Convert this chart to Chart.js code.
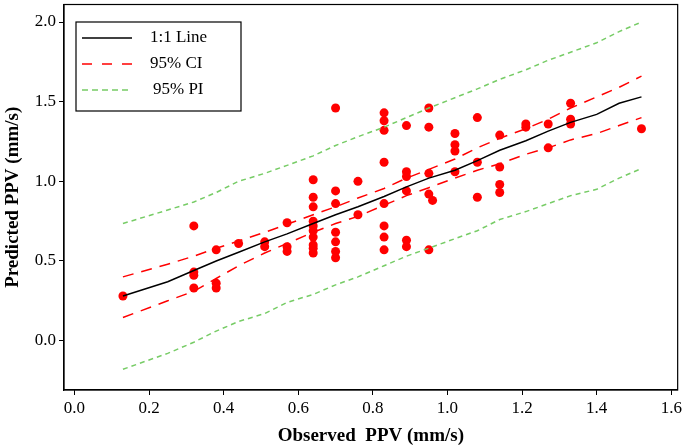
<!DOCTYPE html>
<html>
<head>
<meta charset="utf-8">
<script src="https://cdn.jsdelivr.net/npm/chart.js@4/dist/chart.umd.min.js"></script>
<style>
  html, body { margin: 0; padding: 0; background: #fff; }
  #wrap { width: 685px; height: 447px; }
</style>
</head>
<body>
<div id="wrap"><canvas id="chart"></canvas></div>
<script>
// fitted line and bands, read at these x positions
const fitX    = [0.13, 0.25, 0.32, 0.38, 0.44, 0.51, 0.57, 0.64, 0.70, 0.76, 0.83, 0.89, 0.95, 1.02, 1.08, 1.14, 1.21, 1.27, 1.33, 1.40, 1.46, 1.52];
const fitLine = [0.28, 0.37, 0.44, 0.50, 0.555, 0.62, 0.67, 0.735, 0.79, 0.84, 0.905, 0.965, 1.02, 1.07, 1.13, 1.195, 1.255, 1.315, 1.37, 1.42, 1.49, 1.53];
const ciUpper = [0.40, 0.48, 0.53, 0.58, 0.625, 0.68, 0.73, 0.79, 0.84, 0.895, 0.955, 1.02, 1.075, 1.14, 1.21, 1.27, 1.33, 1.39, 1.46, 1.53, 1.59, 1.66];
const ciLower = [0.145, 0.25, 0.31, 0.39, 0.47, 0.55, 0.61, 0.68, 0.735, 0.78, 0.85, 0.91, 0.96, 1.02, 1.07, 1.11, 1.17, 1.21, 1.26, 1.30, 1.35, 1.40];
const piUpper = [0.735, 0.82, 0.87, 0.93, 1.00, 1.05, 1.10, 1.16, 1.225, 1.28, 1.34, 1.40, 1.46, 1.525, 1.58, 1.64, 1.70, 1.76, 1.81, 1.87, 1.94, 2.00];
const piLower = [-0.18, -0.08, -0.01, 0.06, 0.12, 0.17, 0.24, 0.29, 0.35, 0.40, 0.47, 0.53, 0.58, 0.64, 0.69, 0.76, 0.81, 0.86, 0.91, 0.95, 1.02, 1.08];

// observed vs predicted PPV
const obsPPV  = [0.13,
  0.32, 0.32, 0.32, 0.32,
  0.38, 0.38, 0.38,
  0.44,
  0.51, 0.51,
  0.57, 0.57, 0.57,
  0.64, 0.64, 0.64, 0.64, 0.64, 0.64, 0.64, 0.64, 0.64, 0.64,
  0.70, 0.70, 0.70, 0.70, 0.70, 0.70, 0.70,
  0.76, 0.76,
  0.83, 0.83, 0.83, 0.83, 0.83, 0.83, 0.83, 0.83,
  0.89, 0.89, 0.89, 0.89, 0.89, 0.89,
  0.95, 0.95, 0.95, 0.95, 0.96, 0.95,
  1.02, 1.02, 1.02, 1.02,
  1.08, 1.08, 1.08,
  1.14, 1.14, 1.14, 1.14,
  1.21, 1.21,
  1.27, 1.27,
  1.33, 1.33, 1.33,
  1.52];
const predPPV = [0.28,
  0.72, 0.43, 0.41, 0.33,
  0.57, 0.36, 0.33,
  0.61,
  0.62, 0.59,
  0.74, 0.59, 0.56,
  1.01, 0.90, 0.84, 0.75, 0.72, 0.69, 0.65, 0.60, 0.58, 0.55,
  1.46, 0.94, 0.86, 0.68, 0.62, 0.56, 0.52,
  1.00, 0.79,
  1.43, 1.38, 1.32, 1.12, 0.86, 0.72, 0.65, 0.57,
  1.35, 1.06, 1.03, 0.94, 0.63, 0.59,
  1.46, 1.34, 1.05, 0.92, 0.88, 0.57,
  1.30, 1.23, 1.19, 1.06,
  1.40, 1.12, 0.90,
  1.29, 1.09, 0.98, 0.93,
  1.36, 1.34,
  1.36, 1.21,
  1.49, 1.39, 1.36,
  1.33];

const xTicks = [0, 0.2, 0.4, 0.6, 0.8, 1.0, 1.2, 1.4, 1.6];
const yTicks = [0, 0.5, 1.0, 1.5, 2.0];

const serif = 'Liberation Serif';
const toXY = (xs, ys) => xs.map((x, i) => ({ x: x, y: ys[i] }));

function lineSet(label, ys, color, dash, order) {
  return {
    type: 'line',
    label: label,
    data: toXY(fitX, ys),
    borderColor: color,
    borderWidth: 1.5,
    borderDash: dash,
    pointRadius: 0,
    fill: false,
    tension: 0,
    order: order
  };
}

// border round the plot area
const framePlugin = {
  id: 'frame',
  afterDraw(chart) {
    const a = chart.chartArea, ctx = chart.ctx;
    ctx.save();
    ctx.strokeStyle = '#000';
    ctx.lineWidth = 1.2;
    ctx.strokeRect(a.left, a.top, a.right - a.left, a.bottom - a.top);
    ctx.restore();
  }
};

// legend box inside the plot
const boxLegend = {
  id: 'boxLegend',
  afterDraw(chart) {
    const ctx = chart.ctx;
    const items = [
      { text: '1:1 Line', color: '#000', dash: [], y: 38, x2: 132, tx: 150 },
      { text: '95% CI', color: '#ff0000', dash: [10, 10], y: 64, x2: 132, tx: 150 },
      { text: '95% PI', color: '#77cc66', dash: [6, 4], y: 90, x2: 130, tx: 153 }
    ];
    ctx.save();
    ctx.fillStyle = '#fff';
    ctx.fillRect(76, 22, 165, 89);
    ctx.strokeStyle = '#000';
    ctx.lineWidth = 1.2;
    ctx.setLineDash([]);
    ctx.strokeRect(76, 22, 165, 89);
    ctx.font = '17px "' + serif + '"';
    ctx.textBaseline = 'middle';
    items.forEach(it => {
      ctx.beginPath();
      ctx.strokeStyle = it.color;
      ctx.lineWidth = 1.5;
      ctx.setLineDash(it.dash);
      ctx.moveTo(82, it.y);
      ctx.lineTo(it.x2, it.y);
      ctx.stroke();
      ctx.fillStyle = '#000';
      ctx.fillText(it.text, it.tx, it.y);
    });
    ctx.restore();
  }
};

new Chart(document.getElementById('chart'), {
  type: 'scatter',
  data: {
    datasets: [
      lineSet('1:1 Line', fitLine, '#000000', [], 1),
      lineSet('95% CI', ciUpper, '#ff0000', [11, 8], 2),
      lineSet('95% CI lower', ciLower, '#ff0000', [11, 8], 2),
      lineSet('95% PI', piUpper, '#77cc66', [5, 4], 3),
      lineSet('95% PI lower', piLower, '#77cc66', [5, 4], 3),
      {
        type: 'scatter',
        label: 'Data',
        data: toXY(obsPPV, predPPV),
        backgroundColor: '#ff0000',
        borderWidth: 0,
        pointRadius: 4.5,
        order: 4
      }
    ]
  },
  options: {
    responsive: true,
    maintainAspectRatio: false,
    animation: false,
    layout: { padding: { top: 2, right: 5, left: 0, bottom: 0 } },
    plugins: {
      legend: { display: false },
      tooltip: { enabled: false }
    },
    scales: {
      x: {
        type: 'linear',
        min: -0.028,
        max: 1.617,
        afterBuildTicks: s => { s.ticks = xTicks.map(v => ({ value: v })); },
        afterFit: s => { s.height = 57; },
        ticks: {
          font: { family: serif, size: 17 },
          color: '#000',
          padding: 3,
          maxRotation: 0,
          callback: v => v.toFixed(1)
        },
        grid: { drawOnChartArea: false, drawTicks: true, tickLength: 5, color: '#000', lineWidth: 1 },
        border: { display: true, color: '#000', width: 1.2 },
        title: {
          display: true,
          text: 'Observed  PPV (mm/s)',
          font: { family: serif, size: 19, weight: 'bold' },
          color: '#000',
          padding: { top: 2, bottom: 0 }
        }
      },
      y: {
        type: 'linear',
        min: -0.31,
        max: 2.11,
        afterBuildTicks: s => { s.ticks = yTicks.map(v => ({ value: v })); },
        afterFit: s => { s.width = 64; s.paddingTop = 0; s.paddingBottom = 0; },
        ticks: {
          font: { family: serif, size: 17 },
          color: '#000',
          padding: 3,
          callback: v => v.toFixed(1)
        },
        grid: { drawOnChartArea: false, drawTicks: true, tickLength: 5, color: '#000', lineWidth: 1 },
        border: { display: true, color: '#000', width: 1.2 },
        title: {
          display: true,
          text: 'Predicted PPV (mm/s)',
          font: { family: serif, size: 19, weight: 'bold' },
          color: '#000',
          padding: { top: 2, bottom: 2 }
        }
      }
    }
  },
  plugins: [framePlugin, boxLegend]
});
</script>
</body>
</html>
